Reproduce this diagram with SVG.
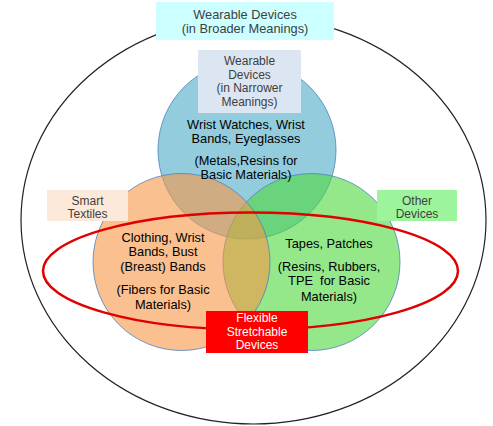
<svg xmlns="http://www.w3.org/2000/svg" width="493" height="426" viewBox="0 0 493 426">
<style>
.t{font-family:"Liberation Sans",Arial,sans-serif;font-size:12.8px;text-anchor:middle;fill:#000}
.s{font-size:12px}
.g{fill:#404040}
.w{fill:#fff}
.c{stroke:#4f81bd;stroke-width:1;stroke-opacity:0.8}
</style>
<rect width="493" height="426" fill="#fff"/>
<g id="outer">
<ellipse cx="253.5" cy="220" rx="232.5" ry="204" fill="none" stroke="#222" stroke-width="1.2"/>
</g>
<g id="wearable-narrow-circle">
<circle class="c" cx="247" cy="150" r="89" fill="#4bacc6" fill-opacity="0.6"/>
</g>
<g id="other-circle">
<circle class="c" cx="311.5" cy="262" r="88.5" fill="#4cd83c" fill-opacity="0.6"/>
</g>
<g id="textile-circle">
<circle class="c" cx="181.5" cy="262" r="88.5" fill="#f79646" fill-opacity="0.6"/>
</g>
<g id="connectors">
<ellipse cx="250.5" cy="271" rx="207.5" ry="58.5" fill="none" stroke="#e00000" stroke-width="2.5"/>
</g>
<g id="broader">
<rect x="156" y="2" width="178" height="38" fill="#ccffff"/>
<text class="t g" x="245" y="19">Wearable Devices</text>
<text class="t g" x="245" y="33">(in Broader Meanings)</text>
</g>
<g id="narrower">
<rect x="198" y="50" width="103" height="63" fill="#dce6f2"/>
<text class="t s g" x="249.5" y="65">Wearable</text>
<text class="t s g" x="249.5" y="78.5">Devices</text>
<text class="t s g" x="249.5" y="92">(in Narrower</text>
<text class="t s g" x="249.5" y="105.5">Meanings)</text>
<text class="t" x="246" y="129">Wrist Watches, Wrist</text>
<text class="t" x="246" y="143">Bands, Eyeglasses</text>
<text class="t" x="246" y="165">(Metals,Resins for</text>
<text class="t" x="246" y="179">Basic Materials)</text>
</g>
<g id="smart-textiles">
<rect x="47" y="190" width="81" height="31" fill="#fde9d9"/>
<text class="t s g" x="87.5" y="204.5">Smart</text>
<text class="t s g" x="87.5" y="218">Textiles</text>
<text class="t" x="163" y="242">Clothing, Wrist</text>
<text class="t" x="163" y="256">Bands, Bust</text>
<text class="t" x="163" y="271">(Breast) Bands</text>
<text class="t" x="163" y="294">(Fibers for Basic</text>
<text class="t" x="163" y="309">Materials)</text>
</g>
<g id="other-devices">
<rect x="377" y="190" width="80" height="31" fill="#9cf59c"/>
<text class="t s g" x="417" y="204.5">Other</text>
<text class="t s g" x="417" y="218">Devices</text>
<text class="t" x="329" y="248">Tapes, Patches</text>
<text class="t" x="329" y="271">(Resins, Rubbers,</text>
<text class="t" x="329" y="285" style="white-space:pre">TPE  for Basic</text>
<text class="t" x="329" y="301">Materials)</text>
</g>
<g id="flexible">
<rect x="206" y="311" width="102" height="42" fill="#ff0000"/>
<text class="t s w" x="257" y="322">Flexible</text>
<text class="t s w" x="257" y="335.5">Stretchable</text>
<text class="t s w" x="257" y="349">Devices</text>
</g>
</svg>
